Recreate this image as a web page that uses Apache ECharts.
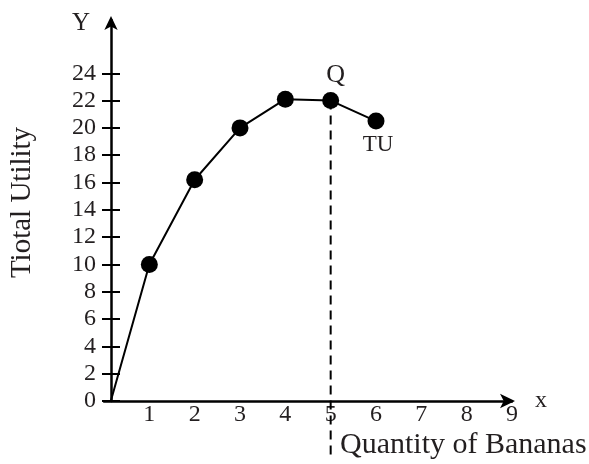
<!DOCTYPE html>
<html><head><meta charset="utf-8">
<script src="https://cdn.jsdelivr.net/npm/echarts@6/dist/echarts.min.js"></script>
<style>html,body{margin:0;padding:0;background:#fff}#c{width:589px;height:464px}</style>
</head><body><div id="c"></div>
<script>
// ---- data ----
const quantity = [0.15, 1, 2, 3, 4, 5, 6];
const totalUtility = [0, 10, 16.2, 20, 22.1, 22, 20.5];
const pointLabels = ['', '', '', '', '', 'Q', 'TU'];
const dropLineX = [5, 5];
const dropLineY = [22, -4.2];
const xTickLabels = [1, 2, 3, 4, 5, 6, 7, 8, 9];
const yTickLabels = [0, 2, 4, 6, 8, 10, 12, 14, 16, 18, 20, 22, 24];

const FONT = "'Liberation Serif', 'Times New Roman', serif";
const INK = '#231f20';

const mainData = quantity.map((q, i) => {
  const item = { value: [q, totalUtility[i]] };
  if (i === 0) item.symbol = 'none';
  if (pointLabels[i] === 'Q') {
    item.label = { show: true, formatter: 'Q', position: 'top', distance: 4, offset: [5, 0],
      fontFamily: FONT, fontSize: 26, color: INK };
  } else if (pointLabels[i] === 'TU') {
    item.label = { show: true, formatter: 'TU', position: 'bottom', distance: 4, offset: [2, 0],
      fontFamily: FONT, fontSize: 23, color: INK };
  }
  return item;
});
const dropData = dropLineX.map((x, i) => [x, dropLineY[i]]);

const chart = echarts.init(document.getElementById('c'), null, { renderer: 'canvas' });
chart.setOption({
  animation: false,
  backgroundColor: '#fff',
  title: [
    { text: 'Y', left: 72, top: 11, padding: 0,
      textStyle: { fontFamily: FONT, fontSize: 25, fontWeight: 'normal', color: INK } },
    { text: 'Quantity of Bananas', left: 340, top: 430, padding: 0,
      textStyle: { fontFamily: FONT, fontSize: 30, fontWeight: 'normal', color: INK } }
  ],
  grid: { left: 101, right: 77, top: 20, bottom: 63 },
  xAxis: {
    type: 'value', min: 0, max: 9,
    axisLine: { onZero: true, symbol: ['none', 'arrow'], symbolSize: [11, 15], symbolOffset: [0, 3],
      lineStyle: { color: '#000', width: 2.5 } },
    axisTick: { show: false },
    splitLine: { show: false },
    axisLabel: { customValues: xTickLabels, margin: 2, fontFamily: FONT, fontSize: 24, color: INK },
    name: 'x', nameLocation: 'end', nameGap: 23,
    nameTextStyle: { fontFamily: FONT, fontSize: 24, color: INK }
  },
  yAxis: [
    {
      type: 'value', min: 0, max: 27.9, offset: -7,
      axisLine: { onZero: false, symbol: ['none', 'arrow'], symbolSize: [10, 14], symbolOffset: [0, 4],
        lineStyle: { color: '#000', width: 2.5 } },
      axisTick: { customValues: yTickLabels, length: 9, lineStyle: { color: '#000', width: 2 } },
      splitLine: { show: false },
      axisLabel: { customValues: yTickLabels, margin: 15, fontFamily: FONT, fontSize: 24, color: INK },
      name: 'Tiotal Utility', nameLocation: 'middle', nameGap: 74, nameRotate: 90,
      nameTextStyle: { fontFamily: FONT, fontSize: 29, color: INK, padding: [0, 0, 0, 16] }
    },
    {
      type: 'value', min: 0, max: 27.9, offset: -7, position: 'left',
      axisLine: { show: false, onZero: false },
      axisTick: { customValues: yTickLabels, inside: true, length: 9, lineStyle: { color: '#000', width: 2 } },
      splitLine: { show: false },
      axisLabel: { show: false }
    }
  ],
  series: [
    {
      type: 'line', data: dropData, clip: false, symbol: 'none', z: 1,
      lineStyle: { color: '#000', width: 2, type: [9, 6] }
    },
    {
      type: 'line', data: mainData, symbol: 'circle', symbolSize: 17, z: 3,
      itemStyle: { color: '#000' },
      lineStyle: { color: '#000', width: 2 }
    }
  ]
});
</script>
</body></html>
